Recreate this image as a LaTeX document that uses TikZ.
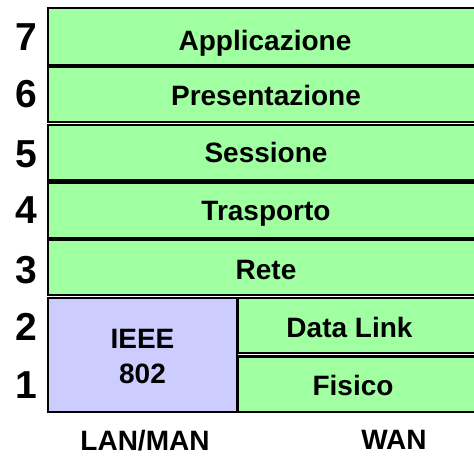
\documentclass[tikz,border=0pt]{standalone}
\usepackage{fontspec}
\setmainfont{Liberation Sans}
\definecolor{layergreen}{RGB}{160,255,160}
\definecolor{ieeeblue}{RGB}{204,204,255}
\begin{document}
\begin{tikzpicture}[x=1pt,y=-1pt,
  layerbox/.style={draw=black, line width=2.2pt, fill=layergreen, inner sep=0pt, outer sep=0pt},
  lanbox/.style={layerbox, fill=ieeeblue},
  lbl/.style={anchor=base, inner sep=0pt, font=\fontsize{28}{30}\selectfont\bfseries},
  num/.style={anchor=base, inner sep=0pt, font=\fontsize{39}{40}\selectfont\bfseries}]
\path[use as bounding box] (0,0) rectangle (474,456);
\clip (0,0) rectangle (474,456);

% OSI layers 7..3, spanning the full width
\node[layerbox, minimum width=436pt, minimum height=57pt]   (r7) at (266,36.5)  {};
\node[layerbox, minimum width=436pt, minimum height=55pt]   (r6) at (266,94.5)  {};
\node[layerbox, minimum width=436pt, minimum height=55.5pt] (r5) at (266,152.8) {};
\node[layerbox, minimum width=436pt, minimum height=55pt]   (r4) at (266,210.5) {};
\node[layerbox, minimum width=436pt, minimum height=55pt]   (r3) at (266,267.5) {};

% layers 2 and 1: IEEE 802 on the left, WAN layers on the right
\node[lanbox,   minimum width=189pt, minimum height=114pt] (ieee) at (142.5,355) {};
\node[layerbox, minimum width=246pt, minimum height=55pt]  (dl)   at (361,325.5) {};
\node[layerbox, minimum width=246pt, minimum height=55.5pt](fis)  at (361,384.2) {};

% layer names
\node[lbl] (t7) at (265,50)  {Applicazione};
\node[lbl] (t6) at (266,105) {Presentazione};
\node[lbl] (t5) at (266,162) {Sessione};
\node[lbl] (t4) at (266,220) {Trasporto};
\node[lbl] (t3) at (266,279) {Rete};
\node[lbl] (tieee) at (142.5,348) {IEEE};
\node[lbl] (t802)  at (142.5,383) {802};
\node[lbl] (tdl)  at (349.5,337) {Data Link};
\node[lbl] (tfis) at (353,395)   {Fisico};

% layer numbers
\node[num] (n7) at (26,50)  {7};
\node[num] (n6) at (26,107) {6};
\node[num] (n5) at (26,167) {5};
\node[num] (n4) at (26,223) {4};
\node[num] (n3) at (26,283) {3};
\node[num] (n2) at (26,340) {2};
\node[num] (n1) at (26,398) {1};

% network scope captions
\node[lbl] (lan) at (145,450) {LAN/MAN};
\node[lbl] (wan) at (394,449) {WAN};
\end{tikzpicture}
\end{document}
